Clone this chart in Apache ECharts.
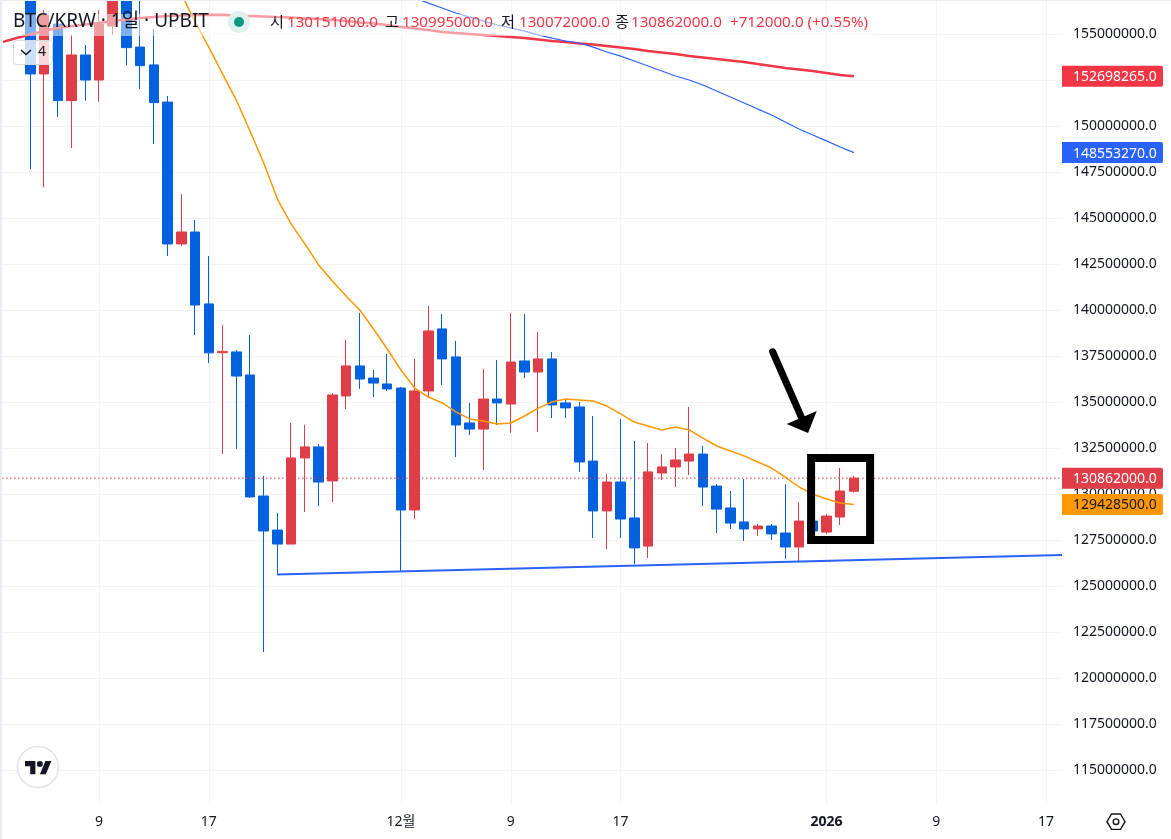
<!DOCTYPE html>
<html>
<head>
<meta charset="utf-8">
<style>
  html, body { margin: 0; padding: 0; background: #fff; }
  #Chart { width: 1171px; height: 839px; }
</style>
<script src="https://cdn.jsdelivr.net/npm/echarts@6/dist/echarts.min.js"></script>
</head>
<body>
<div id="Chart"></div>
<script>
// prices are in millions of KRW, day 0 = Nov 4
const opens = [157.12, 152.83, 155.54, 151.38, 153.86, 152.50, 155.43, 157.07, 154.29, 153.32, 151.30, 143.59, 144.24, 140.33, 137.68, 137.72, 136.47, 129.89, 128.04, 127.28, 131.96, 132.56, 130.71, 135.33, 136.96, 136.30, 135.98, 135.76, 129.13, 135.60, 138.97, 137.45, 133.86, 133.53, 135.16, 134.89, 137.23, 136.63, 137.34, 134.95, 134.73, 131.79, 129.08, 130.65, 128.70, 127.17, 131.14, 131.47, 131.79, 132.17, 130.43, 129.24, 128.48, 128.10, 128.26, 127.88, 127.12, 128.53, 127.93, 128.75, 130.151]
const closes = [152.83, 156.03, 151.38, 153.86, 152.50, 155.54, 157.07, 154.26, 153.28, 151.27, 143.59, 144.24, 140.27, 137.67, 137.75, 136.41, 129.84, 127.99, 127.28, 131.96, 132.56, 130.65, 135.38, 136.96, 136.25, 136.03, 135.71, 129.13, 135.60, 138.86, 137.34, 133.75, 133.53, 135.16, 134.95, 137.17, 136.63, 137.34, 134.84, 134.68, 131.74, 129.08, 130.65, 128.64, 127.07, 131.20, 131.47, 131.85, 132.17, 130.38, 129.18, 128.42, 128.10, 128.26, 127.83, 127.12, 128.53, 127.99, 128.80, 130.16, 130.862]
const lows = [147.66, 146.68, 150.49, 148.80, 151.38, 151.32, 154.95, 153.28, 152.01, 149.02, 142.93, 143.48, 138.64, 137.12, 132.17, 132.45, 129.78, 121.41, 125.60, 127.28, 129.02, 129.35, 129.56, 134.62, 135.71, 135.27, 135.60, 125.76, 128.64, 135.27, 135.92, 132.01, 133.21, 131.30, 133.75, 133.32, 136.30, 133.37, 134.13, 134.13, 131.20, 127.61, 127.01, 127.61, 126.20, 126.52, 130.76, 130.38, 131.03, 129.35, 127.88, 128.10, 127.45, 127.72, 127.50, 126.47, 126.36, 127.88, 127.83, 128.31, 130.072]
const highs = [157.39, 156.30, 156.14, 154.95, 154.40, 156.30, 157.39, 157.28, 157.01, 155.27, 151.63, 146.30, 144.89, 142.93, 139.18, 137.82, 138.64, 130.98, 128.97, 133.86, 133.76, 132.72, 135.49, 138.37, 139.84, 136.74, 137.61, 135.82, 137.34, 140.22, 139.78, 138.32, 134.95, 136.79, 137.28, 139.84, 139.78, 138.80, 137.72, 135.11, 135.00, 134.24, 131.09, 134.08, 132.88, 132.77, 132.17, 132.50, 134.73, 132.61, 130.54, 130.16, 130.81, 128.37, 128.37, 130.54, 129.56, 128.86, 128.91, 131.41, 130.995]

// moving averages, each starts at the given day
const redMaStart = -2
const redMa = [154.57, 154.78, 154.97, 155.16, 155.33, 155.43, 155.52, 155.60, 155.71, 155.79, 155.87, 155.92, 155.98, 156.01, 156.03, 156.03, 156.03, 156.01, 155.98, 155.95, 155.92, 155.90, 155.84, 155.82, 155.76, 155.71, 155.63, 155.57, 155.49, 155.38, 155.30, 155.22, 155.11, 155.05, 155.00, 154.95, 154.89, 154.84, 154.78, 154.70, 154.62, 154.57, 154.49, 154.43, 154.35, 154.27, 154.18, 154.08, 153.99, 153.91, 153.80, 153.72, 153.64, 153.56, 153.48, 153.37, 153.26, 153.15, 153.07, 152.99, 152.88, 152.77, 152.698265]
const blueMaStart = 28
const blueMa = [156.96, 156.68, 156.41, 156.14, 155.92, 155.71, 155.49, 155.33, 155.16, 154.95, 154.78, 154.62, 154.51, 154.29, 154.02, 153.80, 153.53, 153.26, 152.99, 152.72, 152.50, 152.23, 151.90, 151.58, 151.25, 150.92, 150.60, 150.22, 149.84, 149.51, 149.19, 148.86, 148.55327]
const orangeMaStart = 11
const orangeMa = [157.17, 155.65, 154.29, 152.83, 151.41, 149.73, 147.99, 146.03, 144.67, 143.59, 142.45, 141.58, 140.76, 140.00, 138.97, 137.88, 136.74, 135.76, 135.27, 134.95, 134.46, 134.08, 133.97, 133.80, 133.86, 134.24, 134.67, 135.00, 135.16, 135.11, 135.05, 134.78, 134.35, 133.91, 133.70, 133.48, 133.64, 133.48, 133.04, 132.61, 132.34, 132.07, 131.74, 131.41, 130.92, 130.38, 130.00, 129.73, 129.51, 129.4285]

const trendDays = [17.97, 75.16]
const trendPrices = [125.63, 126.68]

const xTickDays = [5, 13, 27, 35, 43, 58, 66, 74]
const xTickLabels = ["9", "17", "12월", "9", "17", "2026", "9", "17"]
const yTicks = [115, 117.5, 120, 122.5, 125, 127.5, 130, 132.5, 135, 137.5, 140, 142.5, 145, 147.5, 150, 152.5, 155]
const yTickLabels = ["115000000.0", "117500000.0", "120000000.0", "122500000.0", "125000000.0", "127500000.0", "130000000.0", "132500000.0", "135000000.0", "137500000.0", "140000000.0", "142500000.0", "145000000.0", "147500000.0", "150000000.0", "152500000.0", "155000000.0"]

const tagPrices = [152.698265, 148.55327, 130.862, 129.4285]
const tagLabels = ["152698265.0", "148553270.0", "130862000.0", "129428500.0"]
const tagColors = ["#f23645", "#2962ff", "#df3d47", "#ff9800"]
const tagTextColors = ["#fff", "#fff", "#fff", "#131722"]

// hand drawn box and arrow, in chart coordinates
const boxDays = [56.88, 61.18]
const boxPrices = [131.96, 127.50]
const arrowShaft = [[54.08, 137.73], [56.29, 133.97]]
const arrowHead = [[57.29, 134.51], [56.66, 133.32], [55.10, 133.80]]

const xMin = -2.067
const xMax = 75.16
const yMin = 113.152
const yMax = 156.848

const fontFamily = "\"Noto Sans\", \"Noto Sans CJK KR\", sans-serif"
const ink = "#131722"
const upColor = "#df3d47"
const downColor = "#0261de"
const gridColor = "#f2f3f5"

const chart = echarts.init(document.getElementById("Chart"), null, { renderer: "canvas" })

const fromDay = (start, values) => values.map((v, i) => [start + i, v])

const maLine = (name, data, color, width) => ({
  name,
  type: "line",
  data,
  showSymbol: false,
  symbol: "none",
  z: 4,
  silent: true,
  lineStyle: { color, width }
})

const legendRow = [
  { x: 270, text: "시", fill: ink },
  { x: 287, text: "130151000.0", fill: "#f23645" },
  { x: 385, text: "고", fill: ink },
  { x: 402, text: "130995000.0", fill: "#f23645" },
  { x: 501, text: "저", fill: ink },
  { x: 519, text: "130072000.0", fill: "#f23645" },
  { x: 615, text: "종", fill: ink },
  { x: 631, text: "130862000.0", fill: "#f23645" },
  { x: 730, text: "+712000.0 (+0.55%)", fill: "#f23645" }
]

// TradingView mark
const logoPoint = (p) => [25 + p[0] * 0.743, 758 + p[1] * 0.743]
const logoStem = [[0, 4], [14, 4], [14, 22], [7, 22], [7, 11], [0, 11]]
const logoSlash = [[20, 22], [27.5, 4], [35.5, 4], [28, 22]]

let option = {
  animation: false,
  backgroundColor: "#fff",
  textStyle: { fontFamily },
  grid: { left: 2, right: 109, top: 0, bottom: 35 },
  xAxis: {
    type: "value",
    min: xMin,
    max: xMax,
    axisLine: { show: false },
    axisTick: { show: false, customValues: xTickDays },
    splitLine: { show: true, lineStyle: { color: gridColor, width: 1 } },
    axisLabel: {
      customValues: xTickDays,
      margin: 11,
      fontSize: 14,
      color: ink,
      fontFamily,
      formatter: (v) => {
        const label = xTickLabels[xTickDays.indexOf(v)]
        return label === "2026" ? "{b|" + label + "}" : label
      },
      rich: { b: { fontWeight: "bold", fontSize: 14, color: ink, fontFamily } }
    }
  },
  yAxis: {
    type: "value",
    position: "right",
    min: yMin,
    max: yMax,
    axisLine: { show: false },
    axisTick: { show: false, customValues: yTicks },
    splitLine: { show: true, lineStyle: { color: gridColor, width: 1 } },
    axisLabel: {
      customValues: yTicks,
      margin: 11,
      fontSize: 14,
      color: ink,
      fontFamily,
      padding: [3, 0, 0, 0],
      formatter: (v) => yTickLabels[yTicks.indexOf(v)]
    }
  },
  series: [
    {
      name: "BTC/KRW",
      type: "candlestick",
      barWidth: 10,
      z: 3,
      silent: true,
      data: opens.map((o, i) => [i, o, closes[i], lows[i], highs[i]]),
      itemStyle: {
        color: upColor,
        color0: downColor,
        borderColor: upColor,
        borderColor0: downColor,
        borderWidth: 1
      }
    },
    maLine("MA red", fromDay(redMaStart, redMa), "#f23645", 2.5),
    maLine("MA blue", fromDay(blueMaStart, blueMa), "#2962ff", 1.2),
    maLine("MA orange", fromDay(orangeMaStart, orangeMa), "#ff9800", 1.5),
    maLine("Trend", trendDays.map((d, i) => [d, trendPrices[i]]), "#2962ff", 2),
    {
      name: "Last price",
      type: "line",
      showSymbol: false,
      symbol: "none",
      silent: true,
      z: 5,
      data: [[xMin, closes[closes.length - 1]], [xMax, closes[closes.length - 1]]],
      lineStyle: { color: upColor, width: 1, type: [1.5, 2.5] }
    },
    {
      name: "Drawing",
      type: "custom",
      silent: true,
      z: 6,
      clip: false,
      data: [[boxDays[0], boxPrices[0]]],
      renderItem: (params, api) => {
        const a = api.coord([boxDays[0], boxPrices[0]])
        const b = api.coord([boxDays[1], boxPrices[1]])
        return {
          type: "group",
          children: [
            {
              type: "rect",
              shape: { x: a[0], y: a[1], width: b[0] - a[0], height: b[1] - a[1] },
              style: { fill: "none", stroke: "#000", lineWidth: 8, lineJoin: "miter" }
            },
            {
              type: "line",
              shape: {
                x1: api.coord(arrowShaft[0])[0],
                y1: api.coord(arrowShaft[0])[1],
                x2: api.coord(arrowShaft[1])[0],
                y2: api.coord(arrowShaft[1])[1]
              },
              style: { stroke: "#000", lineWidth: 7, lineCap: "round" }
            },
            {
              type: "polygon",
              shape: { points: arrowHead.map((p) => api.coord(p)) },
              style: { fill: "#000" }
            }
          ]
        }
      }
    },
    {
      name: "Price tags",
      type: "custom",
      silent: true,
      z: 7,
      clip: false,
      data: tagPrices.map((p) => [xMax, p]),
      renderItem: (params, api) => {
        const i = params.dataIndex
        const y = api.coord([xMax, api.value(1)])[1]
        return {
          type: "group",
          children: [
            {
              type: "rect",
              shape: { x: 1062, y: y - 10.5, width: 101, height: 21, r: [0, 2, 2, 0] },
              style: { fill: tagColors[i] }
            },
            {
              type: "text",
              style: {
                text: tagLabels[i],
                x: 1073,
                y: y + 1,
                fill: tagTextColors[i],
                font: "14px " + fontFamily,
                textAlign: "left",
                textVerticalAlign: "middle"
              }
            }
          ]
        }
      }
    }
  ],
  graphic: [
    // window edge
    { type: "rect", z: 90, shape: { x: 0, y: 0, width: 2, height: 839 }, style: { fill: "#e9edf2" } },
    { type: "rect", z: 90, shape: { x: 0, y: 0, width: 1171, height: 1 }, style: { fill: "#e9edf2" } },
    // legend row
    { type: "rect", z: 100, shape: { x: 13, y: 14, width: 862, height: 22, r: 3 }, style: { fill: "rgba(255,255,255,0.5)" } },
    { type: "text", z: 101, style: { text: "BTC/KRW · 1일 · UPBIT", x: 13, y: 22, fill: ink, font: "19px " + fontFamily, textVerticalAlign: "middle" } },
    { type: "circle", z: 101, shape: { cx: 239, cy: 22, r: 11 }, style: { fill: "#dff1ee" } },
    { type: "circle", z: 102, shape: { cx: 239, cy: 22, r: 5 }, style: { fill: "#089981" } },
    ...legendRow.map((t) => ({
      type: "text",
      z: 101,
      style: { text: t.text, x: t.x, y: 23, fill: t.fill, font: "15.2px " + fontFamily, textVerticalAlign: "middle" }
    })),
    // indicators button
    { type: "rect", z: 100, shape: { x: 13.5, y: 40.5, width: 39, height: 24, r: 3 }, style: { fill: "rgba(255,255,255,0.8)", stroke: "#d6d8e0", lineWidth: 1 } },
    { type: "polyline", z: 101, shape: { points: [[21, 50], [26, 54.5], [31, 50]] }, style: { fill: "none", stroke: ink, lineWidth: 1.5 } },
    { type: "text", z: 101, style: { text: "4", x: 38, y: 52, fill: ink, font: "14px " + fontFamily, textVerticalAlign: "middle" } },
    // logo
    { type: "circle", z: 100, shape: { cx: 38, cy: 767, r: 20.5 }, style: { fill: "#fff", stroke: "#e0e3eb", lineWidth: 1.5 } },
    { type: "polygon", z: 101, shape: { points: logoStem.map(logoPoint) }, style: { fill: ink } },
    { type: "polygon", z: 101, shape: { points: logoSlash.map(logoPoint) }, style: { fill: ink } },
    { type: "circle", z: 101, shape: { cx: logoPoint([20, 8])[0], cy: logoPoint([20, 8])[1], r: 3 }, style: { fill: ink } },
    // settings nut
    { type: "polygon", z: 100, shape: { points: [[1107, 821.7], [1111.5, 814], [1120.5, 814], [1125, 821.7], [1120.5, 829.4], [1111.5, 829.4]] }, style: { fill: "none", stroke: ink, lineWidth: 1.4 } },
    { type: "circle", z: 100, shape: { cx: 1116, cy: 821.7, r: 2.8 }, style: { fill: "none", stroke: ink, lineWidth: 1.4 } }
  ]
}

chart.setOption(option)
</script>
</body>
</html>
